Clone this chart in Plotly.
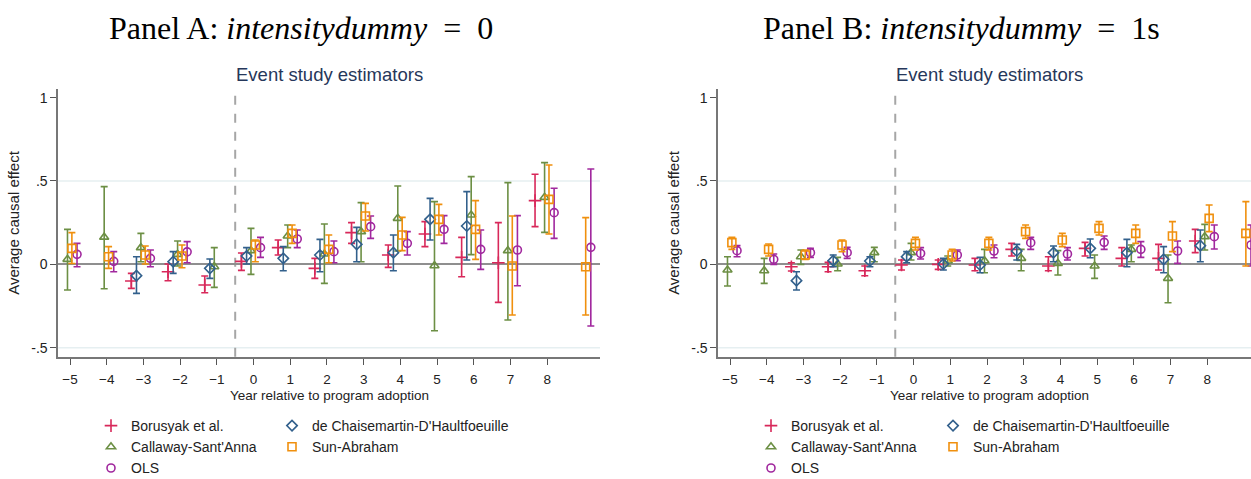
import plotly.graph_objects as go

W, H = 1251, 479

# ---------------- Panel A (intensitydummy = 0) ----------------
A_bor_t  = [-3, -2, -1, 0, 1, 2, 3, 4, 5, 6, 7, 8]
A_bor    = [-0.100, -0.044, -0.124, 0.018, 0.100, -0.024, 0.190, 0.056, 0.182, 0.042, 0.010, 0.382]
A_bor_lo = [-0.144, -0.098, -0.170, -0.036, 0.056, -0.084, 0.126, -0.018, 0.106, -0.074, -0.228, 0.226]
A_bor_hi = [-0.054, 0.002, -0.070, 0.068, 0.146, 0.036, 0.250, 0.116, 0.256, 0.162, 0.250, 0.540]

A_dch_t  = [-3, -2, -1, 0, 1, 2, 3, 4, 5, 6]
A_dch    = [-0.068, 0.016, -0.024, 0.050, 0.036, 0.056, 0.120, 0.070, 0.270, 0.230]
A_dch_lo = [-0.174, -0.054, -0.084, 0.002, -0.038, -0.044, 0.016, -0.038, 0.146, 0.026]
A_dch_hi = [0.046, 0.076, 0.032, 0.100, 0.106, 0.150, 0.222, 0.176, 0.396, 0.436]

A_cs_t  = [-5, -4, -3, -2, -1, 0, 1, 2, 3, 4, 5, 6, 7, 8]
A_cs    = [0.030, 0.163, 0.100, 0.060, -0.014, 0.082, 0.170, 0.062, 0.196, 0.276, -0.008, 0.296, 0.082, 0.402]
A_cs_lo = [-0.154, -0.146, 0.016, -0.010, -0.138, -0.060, 0.100, -0.114, 0.016, 0.080, -0.398, 0.058, -0.334, 0.192]
A_cs_hi = [0.210, 0.466, 0.186, 0.140, 0.100, 0.216, 0.236, 0.242, 0.370, 0.470, 0.376, 0.526, 0.490, 0.610]

A_sa_t  = [-5, -4, -3, -2, 0, 1, 2, 3, 4, 5, 6, 7, 8, 9]
A_sa    = [0.096, 0.046, 0.056, 0.050, 0.116, 0.186, 0.090, 0.290, 0.176, 0.270, 0.210, -0.010, 0.390, -0.014]
A_sa_lo = [0.005, -0.024, 0.002, -0.020, 0.016, 0.126, 0.010, 0.200, 0.082, 0.176, 0.030, -0.304, 0.182, -0.304]
A_sa_hi = [0.190, 0.106, 0.110, 0.116, 0.146, 0.236, 0.176, 0.366, 0.282, 0.360, 0.382, 0.290, 0.596, 0.280]

A_ols_t  = [-5, -4, -3, -2, 0, 1, 2, 3, 4, 5, 6, 7, 8, 9]
A_ols    = [0.060, 0.018, 0.036, 0.075, 0.100, 0.152, 0.076, 0.226, 0.126, 0.210, 0.090, 0.086, 0.310, 0.102]
A_ols_lo = [-0.014, -0.044, -0.014, 0.010, 0.042, 0.100, 0.010, 0.156, 0.056, 0.126, -0.030, -0.128, 0.156, -0.370]
A_ols_hi = [0.126, 0.076, 0.086, 0.136, 0.162, 0.206, 0.140, 0.290, 0.196, 0.292, 0.206, 0.292, 0.456, 0.572]

# ---------------- Panel B (intensitydummy = 1) ----------------
B_bor_t  = [-3, -2, -1, 0, 1, 2, 3, 4, 5, 6, 7, 8]
B_bor    = [-0.014, -0.014, -0.038, -0.004, 0.000, -0.004, 0.090, -0.010, 0.096, 0.036, 0.036, 0.140]
B_bor_lo = [-0.040, -0.044, -0.068, -0.034, -0.030, -0.038, 0.050, -0.038, 0.050, -0.010, -0.034, 0.070]
B_bor_hi = [0.010, 0.012, -0.010, 0.026, 0.026, 0.036, 0.126, 0.046, 0.132, 0.100, 0.120, 0.210]

B_dch_t  = [-3, -2, -1, 0, 1, 2, 3, 4, 5, 6, 7, 8]
B_dch    = [-0.098, 0.022, 0.020, 0.046, 0.002, -0.004, 0.080, 0.070, 0.096, 0.070, 0.030, 0.112]
B_dch_lo = [-0.154, -0.014, -0.014, 0.010, -0.034, -0.050, 0.026, 0.016, 0.040, -0.014, -0.050, 0.016]
B_dch_hi = [-0.044, 0.056, 0.046, 0.076, 0.036, 0.042, 0.120, 0.110, 0.152, 0.150, 0.106, 0.206]

B_cs_t  = [-5, -4, -3, -2, -1, 0, 1, 2, 3, 4, 5, 6, 7, 8]
B_cs    = [-0.034, -0.038, 0.046, 0.002, 0.070, 0.070, 0.020, 0.022, 0.036, 0.006, -0.010, 0.090, -0.084, 0.166]
B_cs_lo = [-0.130, -0.114, 0.000, -0.038, 0.016, 0.026, -0.010, -0.050, -0.038, -0.064, -0.084, 0.016, -0.230, 0.086]
B_cs_hi = [0.046, 0.036, 0.086, 0.042, 0.102, 0.126, 0.050, 0.090, 0.090, 0.082, 0.056, 0.116, 0.056, 0.240]

B_sa_t  = [-5, -4, -3, -2, 0, 1, 2, 3, 4, 5, 6, 7, 8, 9]
B_sa    = [0.130, 0.090, 0.056, 0.116, 0.126, 0.056, 0.126, 0.196, 0.146, 0.216, 0.186, 0.170, 0.276, 0.186]
B_sa_lo = [0.090, 0.050, 0.030, 0.076, 0.086, 0.020, 0.086, 0.156, 0.106, 0.176, 0.126, 0.076, 0.196, -0.010]
B_sa_hi = [0.162, 0.122, 0.086, 0.146, 0.162, 0.090, 0.162, 0.236, 0.186, 0.256, 0.236, 0.256, 0.356, 0.376]

B_ols_t  = [-5, -4, -3, -2, 0, 1, 2, 3, 4, 5, 6, 7, 8, 9]
B_ols    = [0.082, 0.030, 0.070, 0.070, 0.066, 0.056, 0.080, 0.130, 0.062, 0.132, 0.090, 0.080, 0.166, 0.116]
B_ols_lo = [0.046, 0.000, 0.042, 0.036, 0.032, 0.022, 0.040, 0.090, 0.026, 0.090, 0.042, 0.006, 0.092, -0.010]
B_ols_hi = [0.112, 0.062, 0.096, 0.102, 0.100, 0.086, 0.116, 0.162, 0.100, 0.170, 0.136, 0.140, 0.236, 0.236]

x_ticks = [-5, -4, -3, -2, -1, 0, 1, 2, 3, 4, 5, 6, 7, 8]
y_ticks = [-0.5, 0, 0.5, 1]
y_ticktext = ["-.5", "0", ".5", "1"]

# style
colors = {"Borusyak et al.": "#d8285a",
          "de Chaisemartin-D'Haultfoeuille": "#32608c",
          "Callaway-Sant'Anna": "#6c8f44",
          "Sun-Abraham": "#f0900e",
          "OLS": "#a1289e"}
symbols = {"Borusyak et al.": "cross-thin-open",
           "de Chaisemartin-D'Haultfoeuille": "diamond-open",
           "Callaway-Sant'Anna": "triangle-up-open",
           "Sun-Abraham": "square-open",
           "OLS": "circle-open"}
offsets = {"Borusyak et al.": -0.33,
           "de Chaisemartin-D'Haultfoeuille": -0.19,
           "Callaway-Sant'Anna": -0.07,
           "Sun-Abraham": 0.05,
           "OLS": 0.19}

panelA = {"Borusyak et al.": (A_bor_t, A_bor, A_bor_lo, A_bor_hi),
          "de Chaisemartin-D'Haultfoeuille": (A_dch_t, A_dch, A_dch_lo, A_dch_hi),
          "Callaway-Sant'Anna": (A_cs_t, A_cs, A_cs_lo, A_cs_hi),
          "Sun-Abraham": (A_sa_t, A_sa, A_sa_lo, A_sa_hi),
          "OLS": (A_ols_t, A_ols, A_ols_lo, A_ols_hi)}
panelB = {"Borusyak et al.": (B_bor_t, B_bor, B_bor_lo, B_bor_hi),
          "de Chaisemartin-D'Haultfoeuille": (B_dch_t, B_dch, B_dch_lo, B_dch_hi),
          "Callaway-Sant'Anna": (B_cs_t, B_cs, B_cs_lo, B_cs_hi),
          "Sun-Abraham": (B_sa_t, B_sa, B_sa_lo, B_sa_hi),
          "OLS": (B_ols_t, B_ols, B_ols_lo, B_ols_hi)}

legend_of = {"Borusyak et al.": 0, "Callaway-Sant'Anna": 0, "OLS": 0,
             "de Chaisemartin-D'Haultfoeuille": 1, "Sun-Abraham": 1}
legend_order = ["Borusyak et al.", "Callaway-Sant'Anna", "OLS",
                "de Chaisemartin-D'Haultfoeuille", "Sun-Abraham"]

fig = go.Figure()

for pi, (panel, xa, ya) in enumerate([(panelA, "x", "y"), (panelB, "x2", "y2")]):
    for name in legend_order:
        t, est, lo, hi = panel[name]
        c = colors[name]
        leg_id = ["legend", "legend2", "legend3", "legend4"][pi * 2 + legend_of[name]]
        fig.add_trace(go.Scatter(
            x=[ti + offsets[name] for ti in t], y=est, mode="markers", name=name,
            xaxis=xa, yaxis=ya, legend=leg_id, showlegend=True, cliponaxis=True,
            marker=dict(symbol=symbols[name], size=8 if name != "Borusyak et al." else 9,
                        color=c, line=dict(width=1.6, color=c)),
            error_y=dict(type="data", symmetric=False,
                         array=[h - e for h, e in zip(hi, est)],
                         arrayminus=[e - l for e, l in zip(est, lo)],
                         color=c, thickness=1.6, width=3.5),
        ))

tick_font = dict(family="Liberation Sans, Arial, sans-serif", size=14, color="#222222")
xtick_font = dict(family="Liberation Sans, Arial, sans-serif", size=13.5, color="#222222")
xt_font = dict(family="Liberation Sans, Arial, sans-serif", size=13.5, color="#222222")
yt_font = dict(family="Liberation Sans, Arial, sans-serif", size=15, color="#222222")
xdomA = [58.3 / W, 600 / W]
xdomB = [718.3 / W, 1.0]
ydom = [1 - 356.7 / H, 1 - 89.3 / H]

common_x = dict(tickmode="array", tickvals=x_ticks, ticks="outside", ticklen=6,
                tickcolor="#555555", tickwidth=1.2, showline=True, linecolor="#777777",
                linewidth=1.8, showgrid=False, zeroline=False, tickfont=xtick_font,
                ticklabelstandoff=3, automargin=False, fixedrange=True)
common_y = dict(tickmode="array", tickvals=y_ticks, ticktext=y_ticktext, ticks="outside",
                ticklen=6, tickcolor="#555555", tickwidth=1.2, showline=True,
                linecolor="#777777", linewidth=1.8, showgrid=False, zeroline=True,
                zerolinecolor="#8f8f8f", zerolinewidth=1.6, tickfont=tick_font,
                automargin=False, range=[-0.554, 1.05], domain=ydom,
                title=dict(text="Average causal effect", font=yt_font, standoff=8))

fig.update_layout(
    width=W, height=H, margin=dict(l=0, r=0, t=0, b=0, autoexpand=False),
    paper_bgcolor="white", plot_bgcolor="white",
    xaxis=dict(common_x, domain=xdomA, range=[-5.32, 9.44], anchor="y"),
    yaxis=dict(common_y, anchor="x"),
    xaxis2=dict(common_x, domain=xdomB, range=[-5.32, 9.19], anchor="y2"),
    yaxis2=dict(common_y, anchor="x2"),
    showlegend=True,
)

leg_font = dict(family="Liberation Sans, Arial, sans-serif", size=14, color="#222222")
leg_y = 1 - 410 / H
for lid, xpx in [("legend", 91), ("legend2", 272), ("legend3", 751), ("legend4", 933)]:
    fig.update_layout({lid: dict(x=xpx / W, y=leg_y, xanchor="left", yanchor="top",
                                 orientation="v", font=leg_font, bgcolor="rgba(0,0,0,0)",
                                 borderwidth=0, tracegroupgap=0, itemclick=False)})

shapes = []
for xr, yr in [("x", "y"), ("x2", "y2")]:
    for gv in [0.5, -0.5]:
        shapes.append(dict(type="line", xref=xr + " domain", yref=yr, x0=0, x1=1, y0=gv, y1=gv,
                           line=dict(color="#e6eff1", width=1.5), layer="below"))
    shapes.append(dict(type="line", xref=xr, yref=yr + " domain", x0=-0.5, x1=-0.5, y0=0, y1=1,
                       line=dict(color="#a6a6a6", width=2, dash="dash"), layer="below"))
fig.update_layout(shapes=shapes)

ann = []
title_font = dict(family="Liberation Sans, Arial, sans-serif", size=18.5, color="#26375a")
centers = [(xdomA[0] + xdomA[1]) / 2, (xdomB[0] + 1261 / W) / 2]
for cx in centers:
    ann.append(dict(text="Event study estimators", x=cx, y=1 - 75 / H, xref="paper",
                    yref="paper", showarrow=False, font=title_font,
                    xanchor="center", yanchor="middle"))
    ann.append(dict(text="Year relative to program adoption", x=cx, y=1 - 395 / H,
                    xref="paper", yref="paper", showarrow=False, font=xt_font,
                    xanchor="center", yanchor="middle"))
serif = dict(family="Liberation Serif, Times New Roman, serif", size=32, color="black")
ann.append(dict(text="Panel A: <i>intensitydummy</i>&nbsp;&nbsp;=&nbsp;&nbsp;0",
                x=301 / W, y=1 - 28 / H, xref="paper", yref="paper", showarrow=False,
                font=serif, xanchor="center", yanchor="middle"))
ann.append(dict(text="Panel B: <i>intensitydummy</i>&nbsp;&nbsp;=&nbsp;&nbsp;1s",
                x=961.5 / W, y=1 - 28 / H, xref="paper", yref="paper", showarrow=False,
                font=serif, xanchor="center", yanchor="middle"))
fig.update_layout(annotations=ann)

fig.write_html("out.html")
